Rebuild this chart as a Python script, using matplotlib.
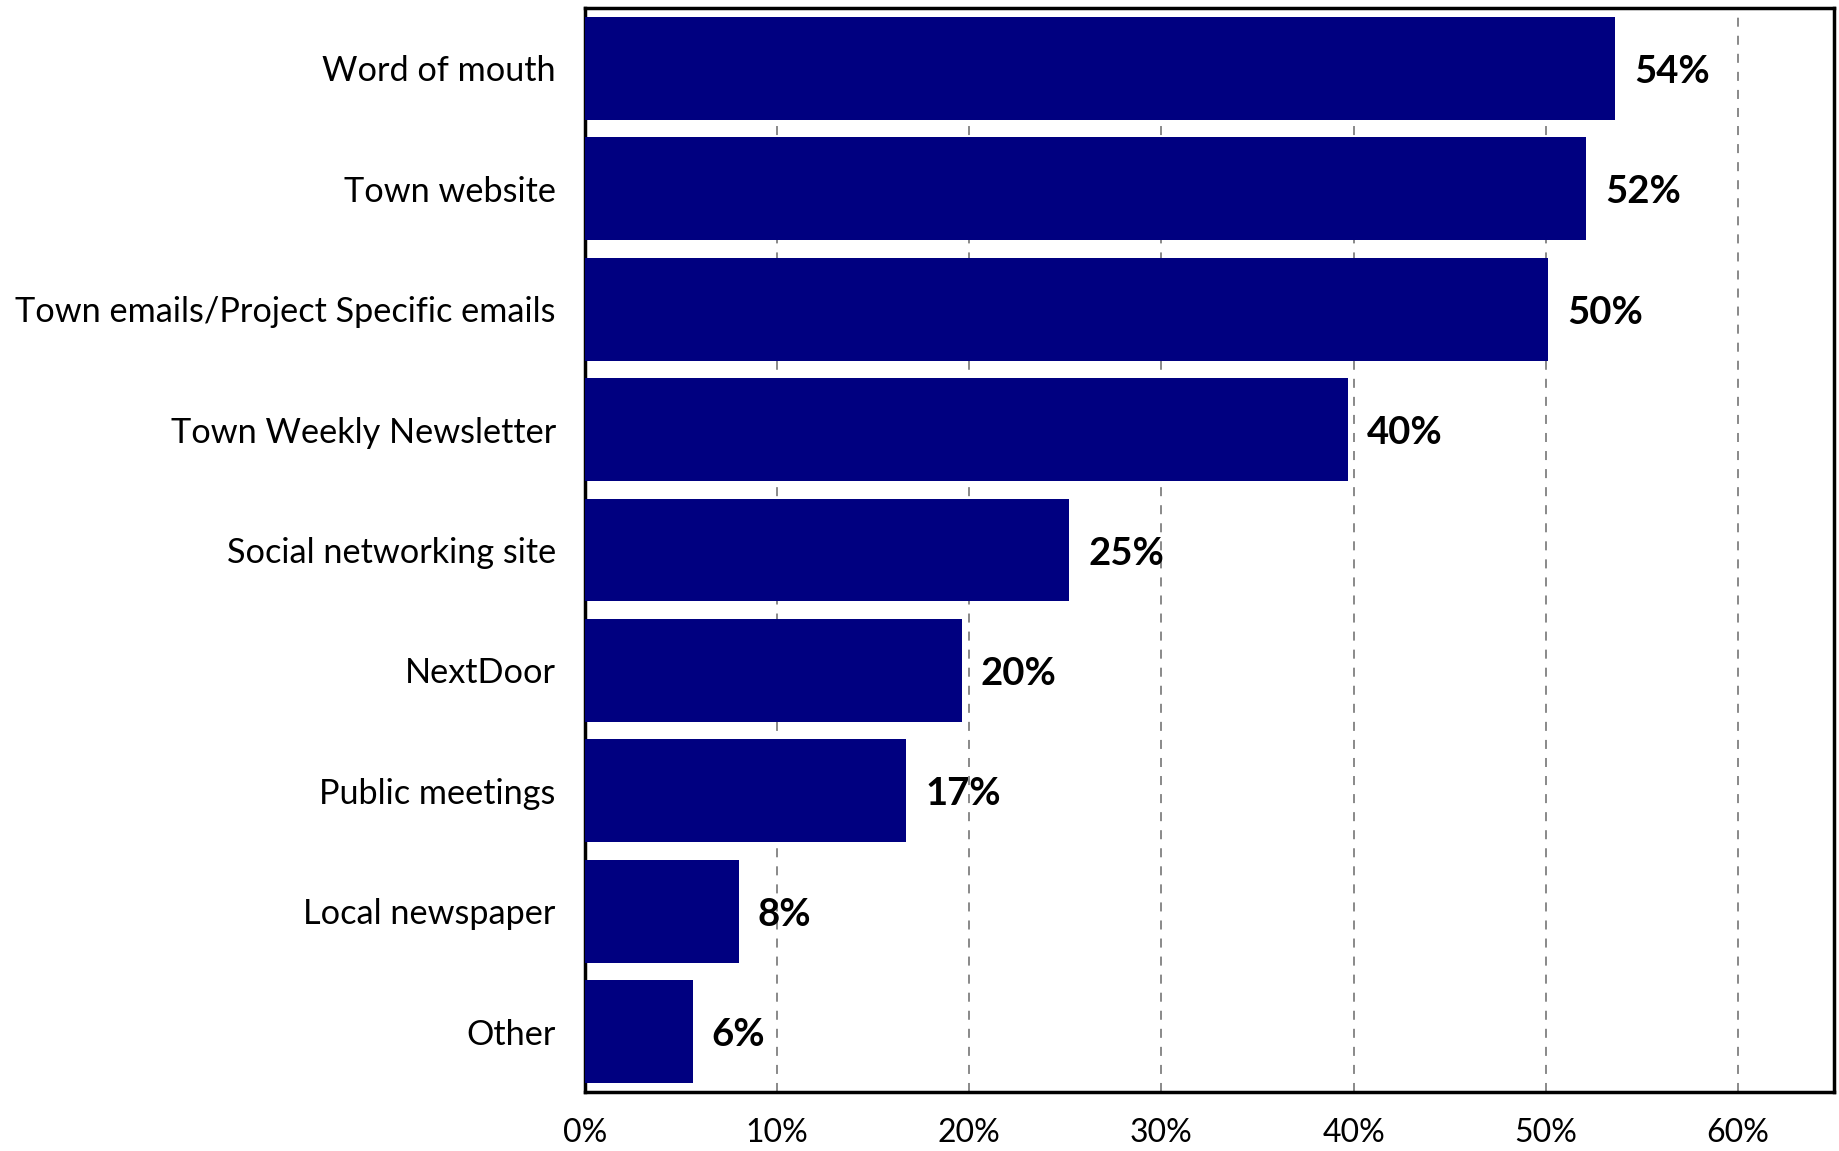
import matplotlib
matplotlib.use("Agg")
import matplotlib.pyplot as plt
from matplotlib.ticker import FuncFormatter

categories = [
    "Word of mouth",
    "Town website",
    "Town emails/Project Specific emails",
    "Town Weekly Newsletter",
    "Social networking site",
    "NextDoor",
    "Public meetings",
    "Local newspaper",
    "Other",
]
values = [53.6, 52.1, 50.1, 39.7, 25.2, 19.6, 16.7, 8.0, 5.6]
x_ticks = [0, 10, 20, 30, 40, 50, 60]

bar_color = "#000080"
font = "Lato"

fig = plt.figure(figsize=(18.39, 11.51), dpi=100)
ax = fig.add_axes([0.3181, 0.0513, 0.6792, 0.9417])

y = list(range(len(categories)))
ax.barh(y, values, height=0.855, color=bar_color, zorder=3)
ax.set_ylim(len(categories) - 0.5, -0.5)
ax.set_xlim(0, 65)

ax.set_yticks(y)
ax.set_yticklabels(categories, fontsize=24.7, fontfamily=font)
ax.set_xticks(x_ticks)
ax.xaxis.set_major_formatter(FuncFormatter(lambda v, p: f"{v:.0f}%"))
for lbl in ax.get_xticklabels():
    lbl.set_fontsize(23)
    lbl.set_fontfamily(font)
ax.tick_params(axis="both", length=0)
ax.tick_params(axis="y", pad=21)
ax.tick_params(axis="x", pad=19)

ax.grid(axis="x", linestyle=(0, (5, 5)), color="#808080", linewidth=1.3, zorder=0)
for s in ax.spines.values():
    s.set_linewidth(2.5)
    s.set_color("black")

for yi, v in zip(y, values):
    ax.text(v + 1.0, yi + 0.03, f"{v:.0f}%", va="center", ha="left",
            fontsize=27.5, fontweight="bold", fontfamily=font)

fig.savefig("out.png", dpi=100)
